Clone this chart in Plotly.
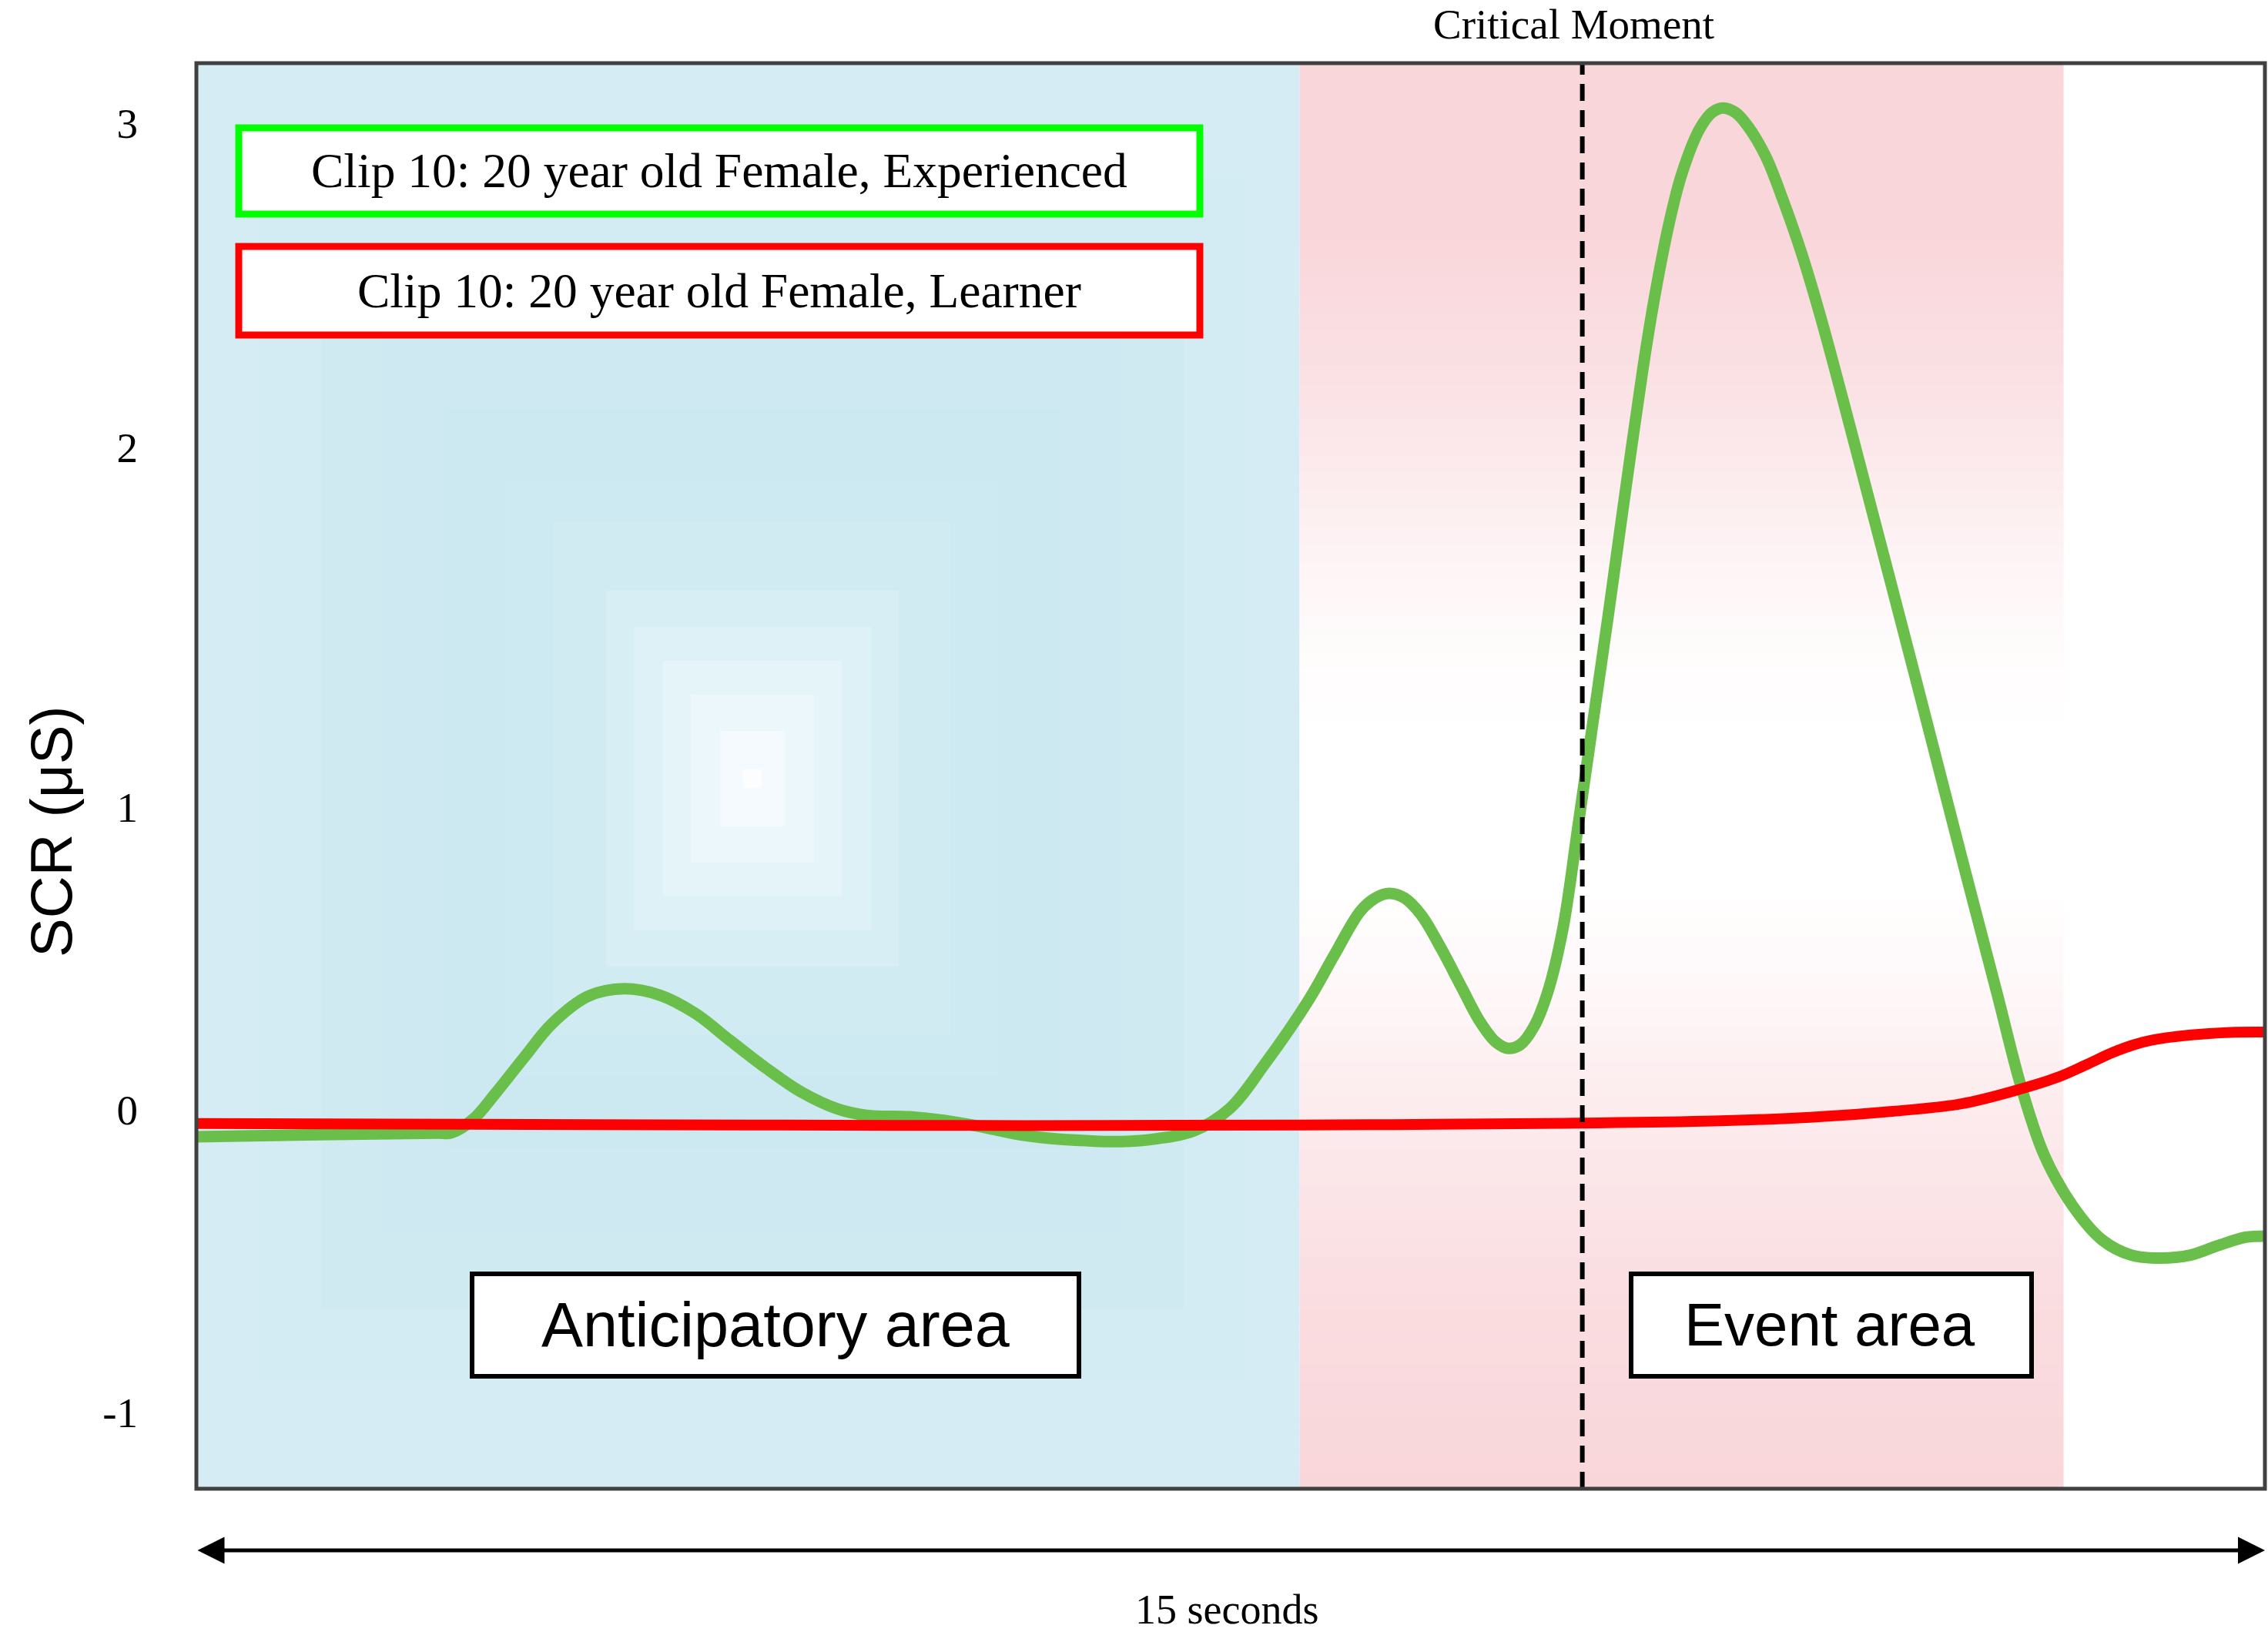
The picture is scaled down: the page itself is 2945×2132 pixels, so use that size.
import plotly.graph_objects as go

# ---------------- data ----------------
time_experienced = [0, 0.9, 1.75, 1.85, 2.01, 2.17, 2.38, 2.58, 2.84, 3.10, 3.36,
                    3.62, 3.87, 4.13, 4.39, 4.65, 4.86, 5.17, 5.42, 5.68, 5.94,
                    6.20, 6.45, 6.71, 6.97, 7.23, 7.49, 7.75, 8.07, 8.25, 8.44,
                    8.55, 8.65, 8.76, 8.88, 9.03, 9.18, 9.31, 9.42, 9.51, 9.60, 9.70, 9.80,
                    9.91, 10.02, 10.13, 10.24, 10.34, 10.49, 10.58, 10.68, 10.77, 10.90,
                    10.99, 11.07, 11.16, 11.25, 11.38, 11.51, 11.64, 11.79, 12.03,
                    12.47, 12.82, 13.06, 13.23, 13.40, 13.61, 13.82, 14.03, 14.24,
                    14.46, 14.67, 14.86, 15.0]
scr_experienced = [-0.089, -0.082, -0.077, -0.076, -0.03, 0.055, 0.175, 0.285, 0.375, 0.40, 0.379,
                   0.318, 0.229, 0.138, 0.058, 0.003, -0.018, -0.023, -0.035, -0.055, -0.08,
                   -0.095, -0.102, -0.105, -0.095, -0.07, 0.003, 0.153, 0.366, 0.51, 0.656,
                   0.70, 0.715, 0.70, 0.645, 0.53, 0.40, 0.29, 0.225, 0.203, 0.215, 0.275, 0.39,
                   0.60, 0.94, 1.29, 1.64, 1.97, 2.45, 2.70, 2.93, 3.09, 3.24,
                   3.295, 3.31, 3.295, 3.25, 3.15, 3.00, 2.83, 2.60, 2.19,
                   1.42, 0.80, 0.38, 0.08, -0.15, -0.32, -0.43, -0.48, -0.49,
                   -0.48, -0.447, -0.421, -0.417]

time_learner = [0, 2, 4, 6, 8, 9, 10, 11, 11.7, 12.3, 12.8, 13.2, 13.5, 13.7, 13.9,
                14.05, 14.2, 14.45, 14.75, 15]
scr_learner = [-0.045, -0.048, -0.05, -0.052, -0.05, -0.048, -0.044, -0.037, -0.025,
               -0.005, 0.02, 0.065, 0.108, 0.148, 0.19, 0.215, 0.232, 0.247, 0.256, 0.257]

tick_positions = [-1, 0, 1, 2.19, 3.26]
tick_labels = ["-1", "0", "1", "2", "3"]

anticipatory_span = [0, 8.0]
event_span = [8.0, 13.54]
critical_moment = 10.05
duration = 15

label_experienced = "Clip 10: 20 year old Female, Experienced"
label_learner = "Clip 10: 20 year old Female, Learner"

# ---------------- layout geometry ----------------
W, H = 2945, 2132
ML, MR, MT, MB = 255, 4, 82, 199
PW, PH = W - ML - MR, H - MT - MB
Y0_PX, PX_PER_UNIT = 1441, 393
y_range = [(Y0_PX - (H - MB)) / PX_PER_UNIT, (Y0_PX - MT) / PX_PER_UNIT]


def px(X):
    return (X - ML) / PW


def py(Y):
    return (H - MB - Y) / PH


SERIF = "Liberation Serif, Times New Roman, serif"
SANS = "Liberation Sans, Arial, sans-serif"

shapes = []

# blue anticipatory region
shapes.append(dict(type="rect", xref="x", yref="paper", x0=anticipatory_span[0],
                   x1=anticipatory_span[1], y0=0, y1=1, fillcolor="rgb(214,236,244)",
                   line=dict(width=0), layer="below"))
# square radial gradient in the blue region
cx, cy = 977, 1011
rings = [(640, 780, (211, 235, 243)), (560, 690, (208, 234, 242)), (480, 590, (206, 233, 242)),
         (400, 480, (204, 232, 241)), (320, 385, (205, 233, 241)), (258, 333, (209, 235, 243)),
         (190, 244, (215, 238, 245)), (154, 197, (222, 241, 247)), (116, 153, (229, 244, 249)),
         (80, 109, (236, 247, 251)), (42, 62, (244, 250, 253)), (12, 12, (251, 253, 254))]
for hw, hh, c in rings:
    shapes.append(dict(type="rect", xref="paper", yref="paper",
                       x0=px(cx - hw), x1=px(cx + hw), y0=py(cy + hh), y1=py(cy - hh),
                       fillcolor="rgb(%d,%d,%d)" % c, line=dict(width=0), layer="below"))

# pink event region with vertical gradient
profile = [(82, 1.0), (300, 1.0), (500, 0.72), (700, 0.32), (850, 0.08), (950, 0.0),
           (1150, 0.0), (1300, 0.22), (1500, 0.58), (1700, 0.85), (1933, 1.0)]
pink = (249, 214, 218)


def mix(Y):
    for (a, fa), (b, fb) in zip(profile[:-1], profile[1:]):
        if a <= Y <= b:
            return fa + (fb - fa) * (Y - a) / (b - a)
    return 1.0


n_strips = 80
step = (H - MB - MT) / n_strips
for i in range(n_strips):
    Ytop = MT + i * step
    f = mix(Ytop + step / 2)
    c = tuple(round(255 + (p - 255) * f) for p in pink)
    shapes.append(dict(type="rect", xref="x", yref="paper", x0=event_span[0], x1=event_span[1],
                       y0=py(Ytop + step + 0.5), y1=py(Ytop), fillcolor="rgb(%d,%d,%d)" % c,
                       line=dict(width=0), layer="below"))

# critical moment dashed line
shapes.append(dict(type="line", xref="x", yref="paper", x0=critical_moment, x1=critical_moment,
                   y0=0, y1=1, line=dict(color="black", width=6, dash="22px,12px"), layer="above"))

# legend-like boxes
shapes.append(dict(type="rect", xref="paper", yref="paper", x0=px(310), x1=px(1558),
                   y0=py(278), y1=py(166), fillcolor="white",
                   line=dict(color="#00ff00", width=9), layer="above"))
shapes.append(dict(type="rect", xref="paper", yref="paper", x0=px(310), x1=px(1558),
                   y0=py(435), y1=py(320), fillcolor="white",
                   line=dict(color="#ff0000", width=9), layer="above"))
# area label boxes
shapes.append(dict(type="rect", xref="paper", yref="paper", x0=px(613), x1=px(1401),
                   y0=py(1787), y1=py(1654), fillcolor="white",
                   line=dict(color="black", width=6), layer="above"))
shapes.append(dict(type="rect", xref="paper", yref="paper", x0=px(2118), x1=px(2638),
                   y0=py(1787), y1=py(1654), fillcolor="white",
                   line=dict(color="black", width=6), layer="above"))
# plot frame
shapes.append(dict(type="rect", xref="paper", yref="paper", x0=0, x1=1, y0=0, y1=1,
                   line=dict(color="#404040", width=5), layer="above"))

annotations = [
    dict(xref="paper", yref="paper", x=px(934), y=py(221), text=label_experienced,
         showarrow=False, xanchor="center", yanchor="middle",
         font=dict(family=SERIF, size=63.5, color="black")),
    dict(xref="paper", yref="paper", x=px(934), y=py(378), text=label_learner,
         showarrow=False, xanchor="center", yanchor="middle",
         font=dict(family=SERIF, size=63.5, color="black")),
    dict(xref="paper", yref="paper", x=px(1007), y=py(1720), text="Anticipatory area",
         showarrow=False, xanchor="center", yanchor="middle",
         font=dict(family=SANS, size=81, color="black")),
    dict(xref="paper", yref="paper", x=px(2376), y=py(1720), text="Event area",
         showarrow=False, xanchor="center", yanchor="middle",
         font=dict(family=SANS, size=78, color="black")),
    dict(xref="paper", yref="paper", x=px(2043), y=py(32), text="Critical Moment",
         showarrow=False, xanchor="center", yanchor="middle",
         font=dict(family=SERIF, size=55, color="black")),
    dict(xref="paper", yref="paper", x=px(1593), y=py(2090), text=f"{duration} seconds",
         showarrow=False, xanchor="center", yanchor="middle",
         font=dict(family=SERIF, size=54, color="black")),
    dict(xref="paper", yref="paper", x=px(66), y=py(1080), text="SCR (μS)", textangle=-90,
         showarrow=False, xanchor="center", yanchor="middle",
         font=dict(family=SANS, size=76, color="black")),
    # double headed time arrow
    dict(xref="x", yref="paper", x=duration, y=py(2013), axref="x", ayref="pixel",
         ax=0, ay=0, text="", showarrow=True, arrowhead=2, arrowside="end+start",
         arrowsize=1.4, arrowwidth=5, arrowcolor="black"),
]

fig = go.Figure()
fig.add_trace(go.Scatter(x=time_experienced, y=scr_experienced, mode="lines",
                         line=dict(color="#6abf4b", width=15, shape="spline", smoothing=1.0),
                         name=label_experienced, hoverinfo="skip"))
fig.add_trace(go.Scatter(x=time_learner, y=scr_learner, mode="lines",
                         line=dict(color="#ff0000", width=14, shape="spline", smoothing=1.0),
                         name=label_learner, hoverinfo="skip"))

fig.update_layout(
    width=W, height=H,
    margin=dict(l=ML, r=MR, t=MT, b=MB, pad=0),
    paper_bgcolor="white", plot_bgcolor="white",
    showlegend=False,
    shapes=shapes, annotations=annotations,
    xaxis=dict(range=[0, duration], showgrid=False, zeroline=False, showticklabels=False,
               ticks="", showline=False),
    yaxis=dict(range=y_range, showgrid=False, zeroline=False, tickmode="array",
               tickvals=tick_positions, ticktext=tick_labels, ticks="",
               ticklabelstandoff=75,
               tickfont=dict(family=SERIF, size=55, color="black"),
               showline=False),
)

fig.write_html("out.html", config={"displayModeBar": False},
               post_script="document.body.style.margin='0px';")
